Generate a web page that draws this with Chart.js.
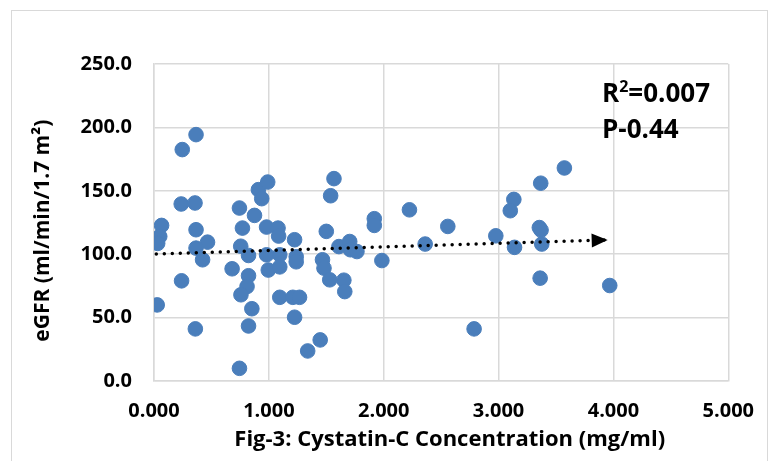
<!DOCTYPE html>
<html lang="en">
<head>
    <meta charset="UTF-8">
    <title>eGFR vs Cystatin-C</title>
    <script src="https://cdn.jsdelivr.net/npm/chart.js"></script>
    <style>
        body { margin: 0; background: #fff; }
        .chart-container { position: relative; width: 772px; height: 461px; }
    </style>
</head>
<body>
    <div class="chart-container">
        <canvas id="egfrChart"></canvas>
    </div>

    <script>
        // cystatin-C (mg/ml) and eGFR (ml/min/1.7 m2)
        const cystatin = [
            0.366, 0.246, 0.237, 0.357, 0.066, 0.050, 0.032, 0.366, 0.466, 0.366,
            0.423, 0.240, 0.028, 0.360, 0.744, 0.770, 0.875, 0.909, 0.990, 0.938,
            0.980, 1.080, 1.085, 1.224, 0.755, 0.823, 0.980, 1.095, 1.238, 1.238,
            0.680, 0.995, 1.095, 0.823, 0.810, 0.757, 0.852, 1.095, 1.209, 1.267,
            1.224, 0.823, 1.447, 1.338, 0.744, 1.500, 1.567, 1.538, 1.610, 1.467,
            1.480, 1.530, 1.653, 1.661, 1.704, 1.710, 1.767, 1.918, 1.918, 2.224,
            2.558, 2.361, 1.984, 2.787, 2.976, 3.133, 3.102, 3.139, 3.573, 3.367,
            3.355, 3.370, 3.376, 3.362, 3.968
        ];
        const egfr = [
            194.3, 182.5, 139.6, 140.4, 122.7, 114.0, 108.5, 119.3, 109.5, 104.8,
            95.6, 79.0, 60.0, 41.1, 136.4, 120.6, 130.6, 150.9, 156.9, 143.8,
            121.4, 120.6, 114.3, 111.4, 106.3, 99.0, 99.5, 99.5, 98.0, 94.0,
            88.5, 87.5, 90.0, 83.0, 74.5, 68.0, 57.0, 66.0, 66.0, 66.0,
            50.3, 43.4, 32.4, 23.7, 10.0, 118.0, 159.6, 146.1, 106.0, 95.6,
            89.0, 79.8, 79.5, 70.5, 110.0, 103.5, 102.1, 128.0, 122.7, 135.0,
            121.9, 108.0, 95.0, 41.1, 114.5, 143.2, 134.3, 105.4, 168.0, 156.0,
            121.0, 119.0, 108.0, 81.1, 75.3
        ];
        // dotted linear trend line (start / end)
        const trendX = [0.02, 3.95];
        const trendY = [100.2, 111.2];

        const xTicks = [0, 1, 2, 3, 4, 5];
        const yTicks = [0, 50, 100, 150, 200, 250];

        const statLines = ['R2=0.007', 'P-0.44'];

        const FONT = "'Open Sans', sans-serif";
        const GRID = '#d9d9d9';

        const points = cystatin.map((x, i) => ({ x: x, y: egfr[i] }));
        const trend = trendX.map((x, i) => ({ x: x, y: trendY[i] }));

        // outer frame + arrow head + R2 / P text
        const extras = {
            id: 'extras',
            beforeDraw(chart) {
                const ctx = chart.ctx;
                ctx.save();
                ctx.fillStyle = '#fff';
                ctx.fillRect(0, 0, chart.width, chart.height);
                ctx.strokeStyle = GRID;
                ctx.lineWidth = 1;
                ctx.strokeRect(11.5, 10.5, 756, 470);
                ctx.restore();
            },
            afterDatasetsDraw(chart) {
                const ctx = chart.ctx;
                const meta = chart.getDatasetMeta(0);
                const p1 = meta.data[meta.data.length - 2];
                const p2 = meta.data[meta.data.length - 1];
                const ang = Math.atan2(p2.y - p1.y, p2.x - p1.x);
                ctx.save();
                ctx.translate(p2.x, p2.y);
                ctx.rotate(ang);
                ctx.fillStyle = '#000';
                ctx.beginPath();
                ctx.moveTo(0, 0);
                ctx.lineTo(-16, -7);
                ctx.lineTo(-16, 7);
                ctx.closePath();
                ctx.fill();
                ctx.restore();

                // statistics text
                ctx.save();
                ctx.fillStyle = '#000';
                ctx.textBaseline = 'middle';
                let x = 602;
                ctx.font = 'bold 26px ' + FONT;
                ctx.fillText('R', x, 95);
                x += ctx.measureText('R').width;
                ctx.font = 'bold 16px ' + FONT;
                ctx.fillText(statLines[0].charAt(1), x, 87);
                x += ctx.measureText('2').width;
                ctx.font = 'bold 26px ' + FONT;
                ctx.fillText(statLines[0].slice(2), x, 95);
                ctx.fillText(statLines[1], 602, 131);
                ctx.restore();
            }
        };

        new Chart(document.getElementById('egfrChart'), {
            type: 'scatter',
            data: {
                datasets: [{
                    type: 'line',
                    data: trend,
                    borderColor: '#000',
                    borderWidth: 3.5,
                    borderDash: [0, 8],
                    borderCapStyle: 'round',
                    pointRadius: 0,
                    fill: false,
                    order: 0
                }, {
                    data: points,
                    backgroundColor: '#4a7ebb',
                    borderColor: '#4a7ebb',
                    pointRadius: 7.3,
                    pointHoverRadius: 7.3,
                    order: 1
                }]
            },
            plugins: [extras],
            options: {
                responsive: true,
                maintainAspectRatio: false,
                animation: false,
                layout: { padding: { left: 0, right: 34.5, top: 64, bottom: 0 } },
                plugins: {
                    legend: { display: false },
                    tooltip: { enabled: false }
                },
                scales: {
                    x: {
                        type: 'linear',
                        min: 0,
                        max: 5,
                        afterBuildTicks: s => { s.ticks = xTicks.map(v => ({ value: v })); },
                        afterFit: s => { s.height = 80; },
                        grid: { color: GRID, lineWidth: 1.5, drawTicks: false },
                        border: { color: GRID, width: 1.5 },
                        ticks: {
                            padding: 18,
                            color: '#000',
                            font: { family: FONT, size: 20, weight: 'bold' },
                            callback: v => Number(v).toFixed(3)
                        },
                        title: {
                            display: true,
                            text: '\u00a0\u00a0\u00a0Fig-3: Cystatin-C Concentration (mg/ml)',
                            color: '#000',
                            padding: { top: 0, bottom: 8 },
                            font: { family: FONT, size: 22, weight: 'bold' }
                        }
                    },
                    y: {
                        min: 0,
                        max: 250,
                        afterBuildTicks: s => { s.ticks = yTicks.map(v => ({ value: v })); },
                        afterFit: s => { s.width = 154; },
                        grid: { color: GRID, lineWidth: 1.5, drawTicks: false },
                        border: { color: GRID, width: 1.5 },
                        ticks: {
                            padding: 22,
                            color: '#000',
                            font: { family: FONT, size: 20, weight: 'bold' },
                            callback: v => Number(v).toFixed(1)
                        },
                        title: {
                            display: true,
                            text: 'eGFR (ml/min/1.7 m²)\u00a0\u00a0\u00a0',
                            color: '#000',
                            padding: { top: 30, bottom: 0 },
                            font: { family: FONT, size: 21, weight: 'bold' }
                        }
                    }
                }
            }
        });
    </script>
</body>
</html>
